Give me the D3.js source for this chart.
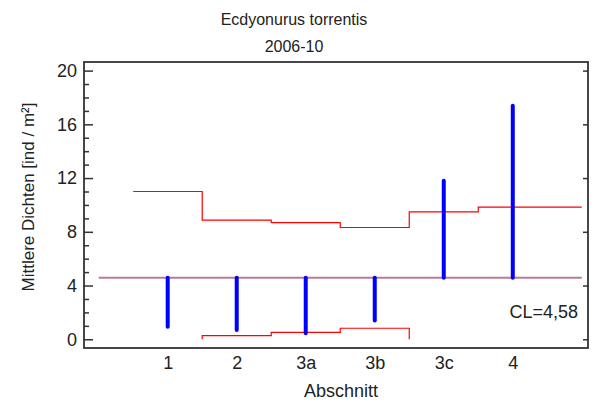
<!DOCTYPE html>
<html>
<head>
<meta charset="utf-8">
<script src="https://cdn.jsdelivr.net/npm/d3@7"></script>
<style>
  body { margin: 0; background: #fff; }
  svg { display: block; font-family: "Liberation Sans", Arial, sans-serif; }
</style>
</head>
<body>
<svg id="chart" width="605" height="403"></svg>
<script>
// Control chart of mean densities per section
const categories = ["1", "2", "3a", "3b", "3c", "4"];
const means = [0.94, 0.69, 0.45, 1.39, 11.8, 17.38];
const ucl = [11.0, 8.87, 8.69, 8.32, 9.49, 9.84];
const lcl = [-1.84, 0.27, 0.52, 0.82, -0.33, -0.68];
const centerLine = 4.58;
const yTicks = [0, 4, 8, 12, 16, 20];
const yMinorTicks = d3.range(0, 21, 1);

const svg = d3.select("#chart");
const plot = { left: 84, right: 588, top: 62, bottom: 348 };
const font = "Liberation Sans, Arial, sans-serif";

// x position by section index (1-based)
const x = d3.scaleLinear().domain([-0.213, 7.09]).range([plot.left, plot.right]);
const y = d3.scaleLinear().domain([-0.65, 20.64]).range([plot.bottom, plot.top]);
const xi = i => x(i + 1);

// Titles
svg.append("text").attr("x", 294).attr("y", 25).attr("text-anchor", "middle")
  .attr("font-size", 16).attr("fill", "#222").text("Ecdyonurus torrentis");
svg.append("text").attr("x", 294).attr("y", 52).attr("text-anchor", "middle")
  .attr("font-size", 16).attr("fill", "#222").text("2006-10");

// Y axis (left): major ticks with labels, minor ticks
const yAxis = d3.axisLeft(y).tickValues(yTicks).tickSizeInner(-9).tickSizeOuter(0).tickPadding(7);
const gy = svg.append("g").attr("transform", `translate(${plot.left},0)`).call(yAxis);
gy.select(".domain").remove();
gy.selectAll(".tick line").attr("stroke", "#333").attr("stroke-width", 1.5);
gy.selectAll(".tick text").attr("font-size", 18).attr("fill", "#222").attr("font-family", font);

const yMinor = d3.axisLeft(y).tickValues(yMinorTicks.filter(v => v % 4 !== 0))
  .tickSizeInner(-5).tickSizeOuter(0).tickFormat("");
const gym = svg.append("g").attr("transform", `translate(${plot.left},0)`).call(yMinor);
gym.select(".domain").remove();
gym.selectAll(".tick line").attr("stroke", "#333").attr("stroke-width", 1.5);

// Y axis (right): major ticks only
const yRight = d3.axisRight(y).tickValues(yTicks).tickSizeInner(-5).tickSizeOuter(0).tickFormat("");
const gyr = svg.append("g").attr("transform", `translate(${plot.right},0)`).call(yRight);
gyr.select(".domain").remove();
gyr.selectAll(".tick line").attr("stroke", "#333").attr("stroke-width", 1.5);

// X axis labels
const xAxis = d3.axisBottom(x).tickValues(categories.map((c, i) => i + 1))
  .tickFormat(v => categories[v - 1]).tickSize(0).tickPadding(8);
const gx = svg.append("g").attr("transform", `translate(0,${plot.bottom})`).call(xAxis);
gx.select(".domain").remove();
gx.selectAll(".tick text").attr("font-size", 18).attr("fill", "#222").attr("font-family", font);

// Axis titles
svg.append("text").attr("x", 341).attr("y", 397).attr("text-anchor", "middle")
  .attr("font-size", 18).attr("fill", "#222").text("Abschnitt");
svg.append("text").attr("transform", "translate(34,197) rotate(-90)")
  .attr("text-anchor", "middle").attr("font-size", 17).attr("fill", "#222")
  .text("Mittlere Dichten [ind / m²]");

// Upper control limit as steps
const uclPts = [];
ucl.forEach((v, i) => {
  uclPts.push([i + 0.5, v]);
  uclPts.push([i === ucl.length - 1 ? i + 2 : i + 1.5, v]);
});
svg.append("path")
  .attr("d", d3.line().x(d => x(d[0])).y(d => y(d[1]))(uclPts))
  .attr("fill", "none").attr("stroke", "#ff0000").attr("stroke-width", 1.2);

// Lower control limit, only where positive
const lclPts = [];
lcl.forEach((v, i) => {
  if (v > 0) {
    if (lclPts.length === 0) lclPts.push([i + 0.5, 0]);
    lclPts.push([i + 0.5, v]);
    lclPts.push([i + 1.5, v]);
  } else if (lclPts.length && lclPts[lclPts.length - 1][1] !== 0) {
    lclPts.push([i + 0.5, 0]);
  }
});
svg.append("path")
  .attr("d", d3.line().x(d => x(d[0])).y(d => y(d[1]))(lclPts))
  .attr("fill", "none").attr("stroke", "#ff0000").attr("stroke-width", 1.2);

// Center line
svg.append("line")
  .attr("x1", x(0)).attr("x2", x(7))
  .attr("y1", y(centerLine)).attr("y2", y(centerLine))
  .attr("stroke", "#b87a9a").attr("stroke-width", 2);

// Deviation bars from center line to section means
svg.append("g").selectAll("line").data(means).join("line")
  .attr("x1", (d, i) => xi(i)).attr("x2", (d, i) => xi(i))
  .attr("y1", y(centerLine)).attr("y2", d => y(d))
  .attr("stroke", "#0000ff").attr("stroke-width", 4).attr("stroke-linecap", "round");

// CL label
svg.append("text").attr("x", 578).attr("y", 318).attr("text-anchor", "end")
  .attr("font-size", 18).attr("fill", "#222").text("CL=" + String(centerLine).replace(".", ","));

// Frame
svg.append("rect")
  .attr("x", plot.left).attr("y", plot.top)
  .attr("width", plot.right - plot.left).attr("height", plot.bottom - plot.top)
  .attr("fill", "none").attr("stroke", "#333").attr("stroke-width", 1.8);
</script>
</body>
</html>
